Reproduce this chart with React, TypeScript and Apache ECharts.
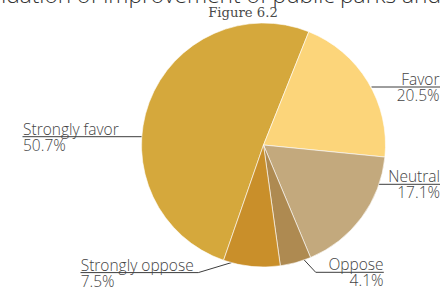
import React, { useEffect, useRef } from 'react';
import * as echarts from 'echarts';

const categories = ['Strongly favor', 'Favor', 'Neutral', 'Oppose', 'Strongly oppose'];
const percentages = [50.7, 20.5, 17.1, 4.1, 7.5];
const sliceColors = ['#D5A83C', '#FCD57A', '#C3A97D', '#AE8A51', '#C98F2A'];
const titleText = 'Recommendation of improvement of public parks and recreation';
const subtitleText = 'Figure 6.2';

// annotation layout for the outside labels (x/y of label anchor, line polyline)
const labelSpots = [
  { x: 23, y: 136.7, align: 'left', line: [[160.7, 136.7], [120, 136.7], [22.5, 136.7]] },
  { x: 439.5, y: 87, align: 'right', line: [[371.5, 87], [390, 87], [440, 87]] },
  { x: 440, y: 184.3, align: 'right', line: [[368, 184.3], [385, 184.3], [440, 184.3]] },
  { x: 383.5, y: 272.3, align: 'right', line: [[294, 249], [315.7, 272.3], [383.8, 272.3]] },
  { x: 80.7, y: 272.6, align: 'left', line: [[245.7, 258.3], [198.3, 272.6], [80.5, 272.6]] },
];

const labelFont = 'Open Sans';
const titleFont = 'Open Sans';

function measure(text: string, font: string): number {
  const c = document.createElement('canvas').getContext('2d');
  if (!c) return text.length * 11;
  c.font = font;
  return c.measureText(text).width;
}

export default function App() {
  const ref = useRef<HTMLDivElement>(null);
  useEffect(() => {
    document.body.style.margin = '0';
    const base = 22;
    const wRun = measure('improvement of public parks and', `300 ${base}px "${titleFont}"`);
    const titleSize = wRun > 0 ? (base * 338) / wRun : base;
    const wHead = measure('Recommendation of improvement of public parks and', `300 ${titleSize}px "${titleFont}"`);
    const titleLeft = 441 - wHead;

    const chart = echarts.init(ref.current!, null, { renderer: 'svg' });
    chart.setOption({
      animation: false,
      title: [
        {
          text: titleText,
          left: titleLeft,
          textAlign: 'left',
          top: -16.5,
          padding: 0,
          textStyle: { fontFamily: titleFont, fontWeight: 300, fontSize: titleSize, lineHeight: titleSize, color: '#333' },
        },
        {
          text: subtitleText,
          left: 'center',
          top: 5.5,
          padding: 0,
          textStyle: { fontFamily: 'DejaVu Serif', fontWeight: 'normal', fontSize: 13.2, lineHeight: 13.5, color: '#4a4a4a' },
        },
      ],
      series: [
        {
          type: 'pie',
          center: [263.5, 145],
          radius: [0, 122],
          startAngle: 250.9,
          clockwise: true,
          avoidLabelOverlap: false,
          itemStyle: { borderColor: 'rgba(255,255,255,0.75)', borderWidth: 0.8 },
          emphasis: { disabled: true },
          label: {
            show: true,
            position: 'outside',
            formatter: '{name|{b}}\n{val|{c}%}',
            color: '#444',
            fontFamily: labelFont,
            fontWeight: 300,
            fontSize: 15.5,
            rich: {
              name: { fontFamily: labelFont, fontWeight: 300, fontSize: 15.5, lineHeight: 16, color: '#444' },
              val: { fontFamily: labelFont, fontWeight: 300, fontSize: 15.5, lineHeight: 16, color: '#444' },
            },
          },
          labelLine: { show: true, length: 10, length2: 10, lineStyle: { color: '#3d3d3d', width: 1 } },
          labelLayout: (params: any) => {
            const s = labelSpots[params.dataIndex];
            return {
              x: s.x,
              y: s.y,
              align: s.align,
              verticalAlign: 'middle',
              labelLinePoints: s.line,
            };
          },
          data: categories.map((name, i) => ({
            name,
            value: percentages[i],
            itemStyle: { color: sliceColors[i] },
          })),
        },
      ],
    });
    return () => chart.dispose();
  }, []);
  return (
    <div style={{ position: 'fixed', left: 0, top: 0, width: 442, height: 294, overflow: 'hidden', background: '#fff' }}>
      <div ref={ref} style={{ width: 486, height: 294 }} />
    </div>
  );
}
